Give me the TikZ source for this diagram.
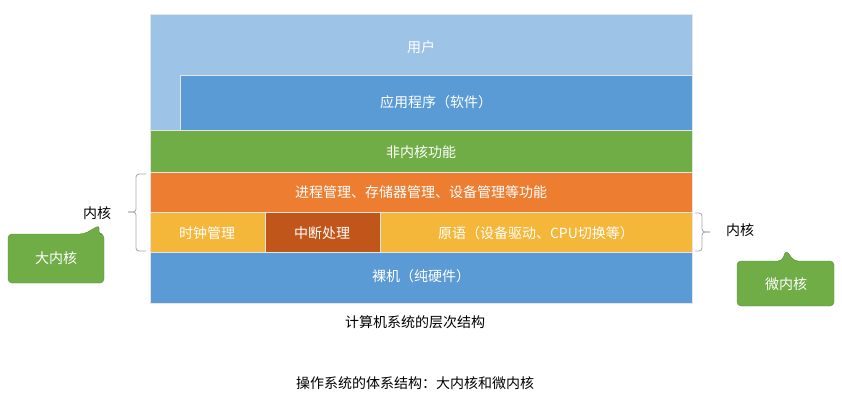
\documentclass[tikz,border=0pt]{standalone}
\usepackage{fontspec}
\newfontfamily\cjk{Noto Sans CJK SC}
\definecolor{lblue}{HTML}{9DC3E6}
\definecolor{mblue}{HTML}{5B9BD5}
\definecolor{grn}{HTML}{70AD47}
\definecolor{org}{HTML}{ED7D31}
\definecolor{yel}{HTML}{F4B73A}
\definecolor{brn}{HTML}{C0561A}
\begin{document}
\begin{tikzpicture}[x=1pt,y=-1pt,font=\cjk\fontsize{14}{16}\selectfont,
  lay/.style={draw=white!80!gray,line width=0.4pt,inner sep=0},
  wt/.style={text=white},
  brace/.style={draw=gray!70,line width=0.8pt,rounded corners=3pt},
  callout/.style={fill=grn,draw=grn!80!black,rounded corners=4pt}]
\useasboundingbox (0,0) rectangle (842,405);
\fill[lblue,draw=white!80!gray] (150,14) rectangle (692,130);
\node[wt] (user) at (421,47) {用户};
\fill[mblue,draw=white!80!gray] (180,75) rectangle (692,130);
\node[wt] (app) at (436,102) {应用程序（软件）};
\fill[grn,draw=white!80!gray] (150,130) rectangle (692,172);
\node[wt] (nk) at (421,152) {非内核功能};
\fill[org,draw=white!80!gray] (150,172) rectangle (692,212);
\node[wt] (proc) at (421,192) {进程管理、存储器管理、设备管理等功能};
\fill[yel,draw=white!80!gray] (150,212) rectangle (265,252);
\node[wt] (clk) at (207,233) {时钟管理};
\fill[brn,draw=white!80!gray] (265,212) rectangle (380,252);
\node[wt] (intr) at (322,233) {中断处理};
\fill[yel,draw=white!80!gray] (380,212) rectangle (692,252);
\node[wt] (prim) at (536,233) {原语（设备驱动、CPU切换等）};
\fill[mblue,draw=white!80!gray] (150,252) rectangle (692,303);
\node[wt] (hw) at (421,276) {裸机（纯硬件）};
\node (cap1) at (415,322) {计算机系统的层次结构};
\node (cap2) at (415,383) {操作系统的体系结构：大内核和微内核};
% left brace
\draw[brace] (146,174) -- (136,174) -- (136,212) -- (128,212);
\draw[brace] (128,212) -- (136,212) -- (136,251) -- (146,251);
\node (lk) at (97,213) {内核};
\draw[callout] (8,234) -- (84,234) -- (100,225) -- (98,234) -- (104,234) -- (104,283) -- (8,283) -- cycle;
\node[wt] (big) at (56,258) {大内核};
% right brace
\draw[brace] (695,213) -- (702,213) -- (702,232) -- (710,232);
\draw[brace] (710,232) -- (702,232) -- (702,251) -- (695,251);
\node (rk) at (740,230) {内核};
\draw[callout] (737,261) -- (782,261) -- (786,250) -- (794,261) -- (834,261) -- (834,306) -- (737,306) -- cycle;
\node[wt] (micro) at (786,284) {微内核};
\end{tikzpicture}
\end{document}
